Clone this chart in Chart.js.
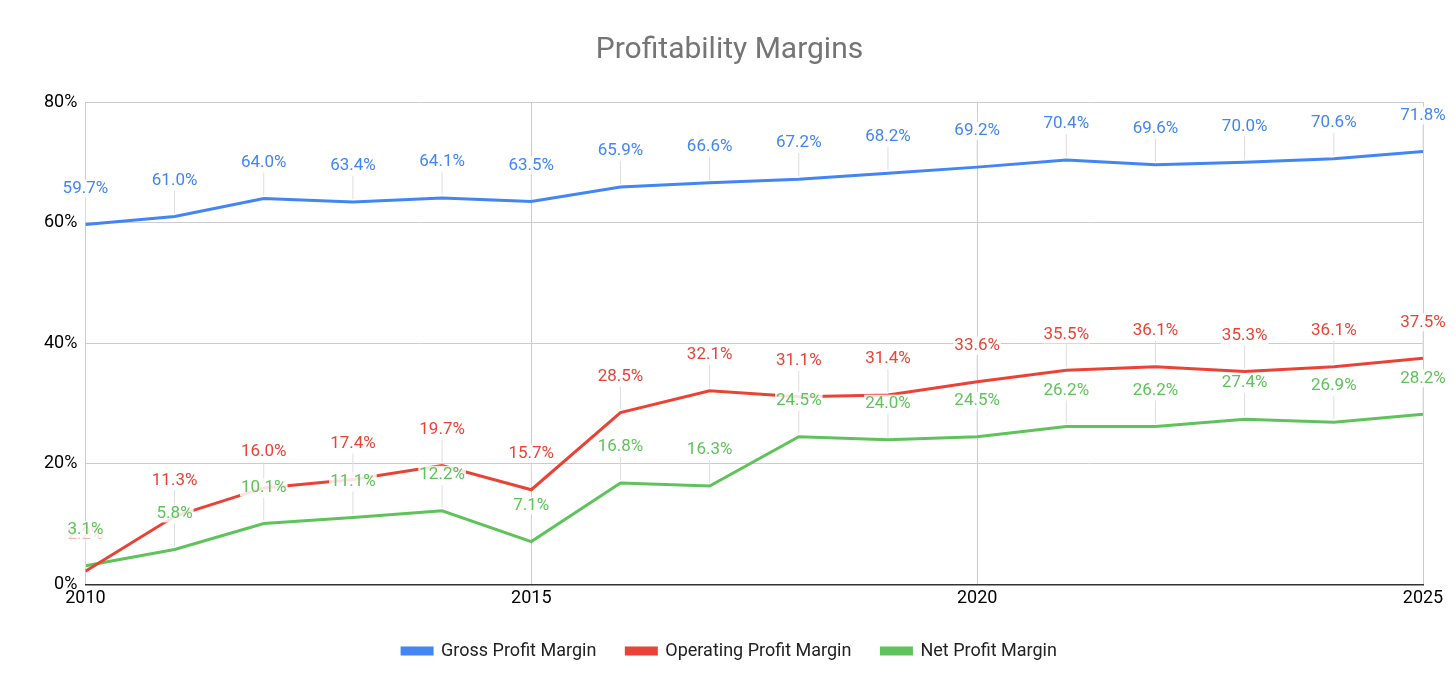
<!DOCTYPE html>
<html>
<head>
<meta charset="utf-8">
<script src="https://cdn.jsdelivr.net/npm/chart.js@4"></script>
<style>body{margin:0;background:#fff}</style>
</head>
<body>
<canvas id="myChart" width="1456" height="694"></canvas>
<script>
const years = [2010,2011,2012,2013,2014,2015,2016,2017,2018,2019,2020,2021,2022,2023,2024,2025];
const grossMargin = [59.7,61.0,64.0,63.4,64.1,63.5,65.9,66.6,67.2,68.2,69.2,70.4,69.6,70.0,70.6,71.8];
const operatingMargin = [2.2,11.3,16.0,17.4,19.7,15.7,28.5,32.1,31.1,31.4,33.6,35.5,36.1,35.3,36.1,37.5];
const netMargin = [3.1,5.8,10.1,11.1,12.2,7.1,16.8,16.3,24.5,24.0,24.5,26.2,26.2,27.4,26.9,28.2];
const xTicks = [2010,2015,2020,2025];
const yTicks = [0,20,40,60,80];

// labels above each point with a thin leader line
const pointLabels = {
  id: 'pointLabels',
  afterDatasetsDraw(chart) {
    const c = chart.ctx;
    c.save();
    c.font = '17px Roboto';
    c.textAlign = 'center';
    c.textBaseline = 'middle';
    chart.data.datasets.forEach((ds, i) => {
      chart.getDatasetMeta(i).data.forEach((pt, j) => {
        const txt = ds.data[j].y.toFixed(1) + '%';
        const ly = pt.y - 36;
        c.strokeStyle = '#dddddd';
        c.lineWidth = 1;
        c.beginPath(); c.moveTo(pt.x, ly + 10); c.lineTo(pt.x, pt.y - 3); c.stroke();
        const w = c.measureText(txt).width;
        c.fillStyle = 'rgba(255,255,255,0.85)';
        c.fillRect(pt.x - w/2 - 1, ly - 9, w + 2, 18);
        c.fillStyle = ds.borderColor;
        c.fillText(txt, pt.x, ly);
      });
    });
    c.restore();
  }
};

const mk = (label, vals, color) => ({
  label, borderColor: color, backgroundColor: color,
  data: years.map((y, i) => ({x: y, y: vals[i]})),
  borderWidth: 3, pointRadius: 0, tension: 0
});

new Chart(document.getElementById('myChart').getContext('2d'), {
  type: 'line',
  data: { datasets: [
    mk('Gross Profit Margin', grossMargin, '#4285f4'),
    mk('Operating Profit Margin', operatingMargin, '#ea4335'),
    mk('Net Profit Margin', netMargin, '#5ec35a')
  ]},
  options: {
    responsive: false, animation: false,
    layout: { padding: { left: 36, right: 33, top: 0, bottom: 24 } },
    plugins: {
      title: { display: true, text: 'Profitability Margins', color: '#757575',
        font: { family: 'Roboto', size: 30, weight: 'normal' }, padding: { top: 32, bottom: 34 } },
      legend: { position: 'bottom',
        labels: { color: '#222', font: { family: 'Roboto', size: 18 }, boxWidth: 30, boxHeight: 6, padding: 30 } },
      tooltip: { enabled: false }
    },
    scales: {
      x: { type: 'linear', min: 2010, max: 2025,
        afterBuildTicks: a => { a.ticks = xTicks.map(v => ({value: v})); },
        ticks: { color: '#000', font: { family: 'Roboto', size: 18 }, callback: v => String(v), maxRotation: 0 },
        grid: { color: '#cccccc', drawTicks: false }, border: { color: '#333', width: 1.5 } },
      y: { min: 0, max: 80,
        afterBuildTicks: a => { a.ticks = yTicks.map(v => ({value: v})); },
        ticks: { color: '#000', font: { family: 'Roboto', size: 18 }, callback: v => v + '%', padding: 8 },
        grid: { color: '#cccccc', drawTicks: false }, border: { display: false } }
    }
  },
  plugins: [pointLabels]
});
</script>
</body>
</html>
